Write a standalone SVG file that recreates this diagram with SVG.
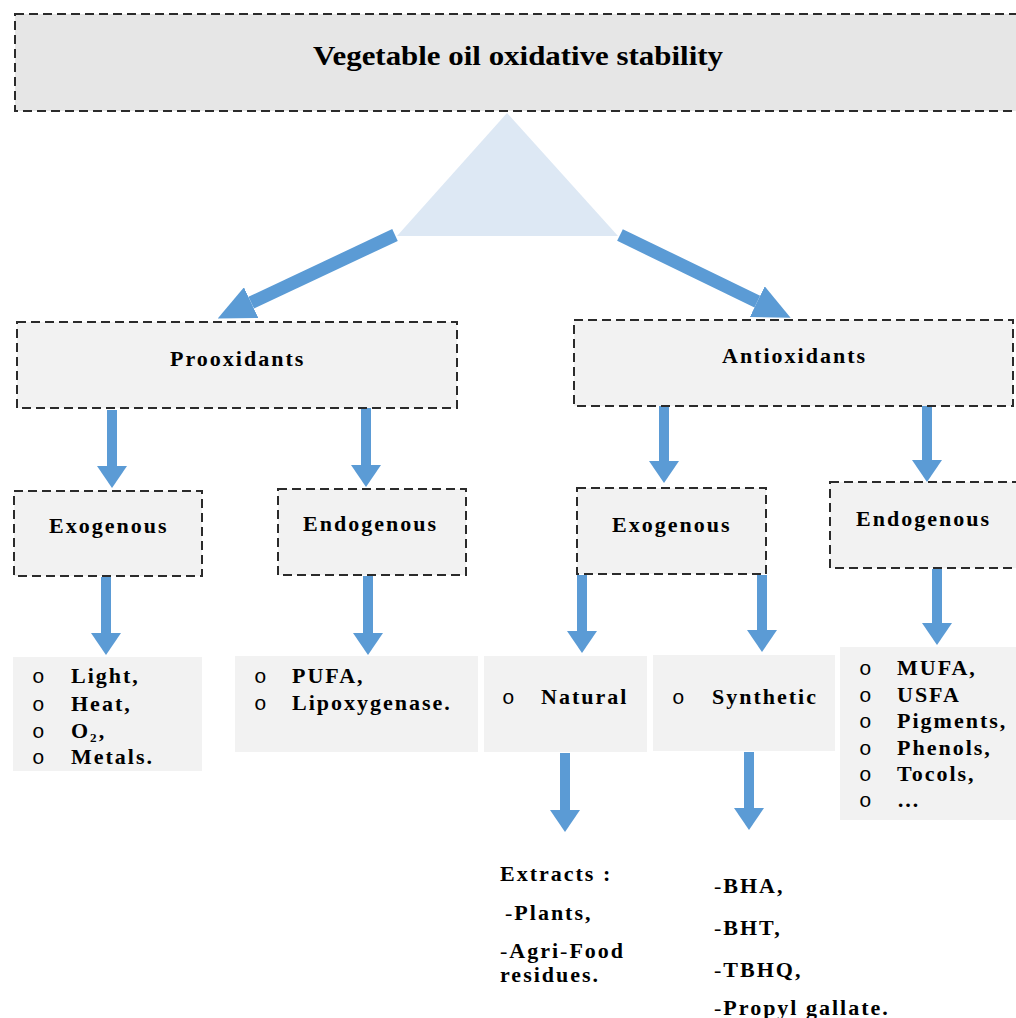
<svg xmlns="http://www.w3.org/2000/svg" width="1016" height="1018" viewBox="0 0 1016 1018">
<style>
.box{fill:#f2f2f2;stroke:#2b2b2b;stroke-width:2;stroke-dasharray:9 5}
.plain{fill:#f2f2f2}
.t{font-family:"Liberation Serif","Times New Roman",serif;font-weight:bold;font-size:22px;letter-spacing:2px;fill:#000}
.b{font-family:"Liberation Mono","Courier New",monospace;font-size:21px;fill:#000}
.n{font-weight:normal}
.arr{stroke:#5b9bd5;stroke-width:10;fill:none;marker-end:url(#ah)}
.arrd{stroke:#5b9bd5;stroke-width:13;fill:none;marker-end:url(#ahd)}
</style>
<defs>
<marker id="ah" markerUnits="userSpaceOnUse" markerWidth="22" markerHeight="30" refX="0" refY="15" orient="auto" viewBox="0 0 22 30">
<path d="M0,0 L22,15 L0,30 z" fill="#5b9bd5"/>
</marker>
<marker id="ahd" markerUnits="userSpaceOnUse" markerWidth="37" markerHeight="34" refX="0" refY="17" orient="auto" viewBox="0 0 37 34">
<path d="M0,0 L37,17 L0,34 z" fill="#5b9bd5"/>
</marker>
</defs>
<rect width="1016" height="1018" fill="#ffffff"/>

<g id="title">
<rect x="15" y="14" width="1010" height="97" fill="#e6e6e6" stroke="#2b2b2b" stroke-width="2" stroke-dasharray="9 5"/>
<text x="313" y="65" font-family="'Liberation Serif','Times New Roman',serif" font-weight="bold" font-size="27" textLength="410" lengthAdjust="spacingAndGlyphs">Vegetable oil oxidative stability</text>
</g>
<g id="triangle">
<polygon points="507,113 397,236 618,236" fill="#dde8f4"/>
</g>

<g id="connectors">
<line class="arrd" x1="395" y1="235" x2="251.2" y2="302.7"/>
<line class="arrd" x1="620" y1="235" x2="757.3" y2="301.6"/>
<line class="arr" x1="112" y1="410" x2="112" y2="466"/>
<line class="arr" x1="366" y1="408" x2="366" y2="465"/>
<line class="arr" x1="664" y1="406" x2="664" y2="461"/>
<line class="arr" x1="927" y1="406" x2="927" y2="460"/>
<line class="arr" x1="106" y1="577" x2="106" y2="633"/>
<line class="arr" x1="368" y1="576" x2="368" y2="633"/>
<line class="arr" x1="582" y1="575" x2="582" y2="631"/>
<line class="arr" x1="762" y1="575" x2="762" y2="630"/>
<line class="arr" x1="937" y1="569" x2="937" y2="623"/>
<line class="arr" x1="565" y1="753" x2="565" y2="810"/>
<line class="arr" x1="749" y1="752" x2="749" y2="808"/>
</g>

<g id="prooxidants">
<rect class="box" x="17" y="322" width="440" height="86"/>
<text class="t" x="170" y="366">Prooxidants</text>
</g>
<g id="antioxidants">
<rect class="box" x="574" y="320" width="439" height="86"/>
<text class="t" x="722" y="363">Antioxidants</text>
</g>
<g id="pro-exogenous">
<rect class="box" x="14" y="491" width="188" height="85"/>
<text class="t" x="49" y="533">Exogenous</text>
</g>
<g id="pro-endogenous">
<rect class="box" x="278" y="489" width="188" height="86"/>
<text class="t" x="303" y="531">Endogenous</text>
</g>
<g id="anti-exogenous">
<rect class="box" x="577" y="488" width="189" height="86"/>
<text class="t" x="612" y="532">Exogenous</text>
</g>
<g id="anti-endogenous">
<rect class="box" x="830" y="482" width="195" height="86"/>
<text class="t" x="856" y="526">Endogenous</text>
</g>

<g id="pro-exo-list">
<rect class="plain" x="13" y="657" width="189" height="114"/>
<text class="b" x="32" y="683">o</text><text class="t" x="71" y="683">Light,</text>
<text class="b" x="32" y="711">o</text><text class="t" x="71" y="711">Heat,</text>
<text class="b" x="32" y="738">o</text><text class="t" x="71" y="738">O₂,</text>
<text class="b" x="32" y="764">o</text><text class="t" x="71" y="764">Metals.</text>
</g>
<g id="pro-endo-list">
<rect class="plain" x="235" y="656" width="243" height="96"/>
<text class="b" x="254" y="683">o</text><text class="t" x="292" y="683">PUFA,</text>
<text class="b" x="254" y="710">o</text><text class="t" x="292" y="710">Lipoxygenase.</text>
</g>
<g id="natural">
<rect class="plain" x="484" y="656" width="163" height="96"/>
<text class="b" x="502" y="704">o</text><text class="t" x="541" y="704">Natural</text>
</g>
<g id="synthetic">
<rect class="plain" x="653" y="655" width="182" height="96"/>
<text class="b" x="672" y="704">o</text><text class="t" x="712" y="704">Synthetic</text>
</g>
<g id="anti-endo-list">
<rect class="plain" x="840" y="647" width="180" height="173"/>
<text class="b" x="859" y="675">o</text><text class="t" x="897" y="675">MUFA,</text>
<text class="b" x="859" y="702">o</text><text class="t" x="897" y="702">USFA</text>
<text class="b" x="859" y="728">o</text><text class="t" x="897" y="728">Pigments,</text>
<text class="b" x="859" y="755">o</text><text class="t" x="897" y="755">Phenols,</text>
<text class="b" x="859" y="781">o</text><text class="t" x="897" y="781">Tocols,</text>
<text class="b" x="859" y="807">o</text><text class="t" x="897" y="807">…</text>
</g>
<g id="extracts">
<text class="t" x="500" y="881">Extracts :</text>
<text class="t" x="505" y="920"><tspan class="n">-</tspan>Plants,</text>
<text class="t" x="500" y="958"><tspan class="n">-</tspan>Agri<tspan class="n">-</tspan>Food</text>
<text class="t" x="500" y="982">residues.</text>
</g>
<g id="synthetic-list">
<text class="t" x="714" y="893"><tspan class="n">-</tspan>BHA,</text>
<text class="t" x="714" y="935"><tspan class="n">-</tspan>BHT,</text>
<text class="t" x="714" y="977"><tspan class="n">-</tspan>TBHQ,</text>
<text class="t" x="714" y="1015"><tspan class="n">-</tspan>Propyl gallate.</text>
</g>
</svg>
